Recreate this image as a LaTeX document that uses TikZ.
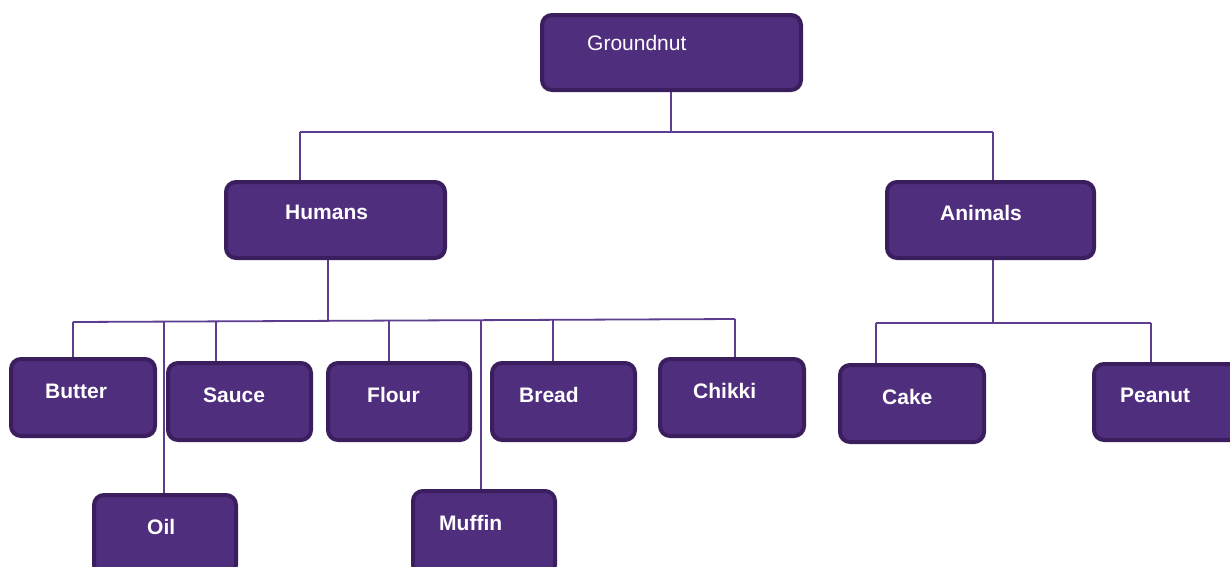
\documentclass[tikz,border=0pt]{standalone}
\usepackage{fontspec}
\setmainfont{Liberation Sans}
\begin{document}
\definecolor{boxfill}{HTML}{502E7E}
\definecolor{boxrim}{HTML}{3A1E5D}
\definecolor{wire}{HTML}{5C3D90}
\begin{tikzpicture}[x=1pt,y=-1pt,
  pbox/.style={draw=boxrim,fill=boxfill,line width=4pt,rounded corners=10pt,inner sep=0pt},
  lbl/.style={text=white,font=\fontsize{21}{24}\selectfont\bfseries,anchor=base west,inner sep=0pt},
  conn/.style={draw=wire,line width=1.8pt}]
\useasboundingbox (0,0) rectangle (1230,566);
\clip (0,0) rectangle (1230,566);

% boxes: corners given as (left,top) rectangle (right,bottom)
\newcommand{\mkbox}[5]{%
  \node[pbox,minimum width=#4-#2,minimum height=#5-#3] (#1) at ({(#2+#4)/2},{(#3+#5)/2}) {};}
\mkbox{g}{542}{15}{801}{90}
\mkbox{hum}{226}{182}{445}{258}
\mkbox{ani}{887}{182}{1094}{258}
\mkbox{butter}{11}{359}{155}{436}
\mkbox{sauce}{168}{363}{311}{440}
\mkbox{flour}{328}{363}{470}{440}
\mkbox{bread}{492}{363}{635}{440}
\mkbox{chikki}{660}{359}{804}{436}
\mkbox{cake}{840}{365}{984}{442}
\mkbox{peanut}{1094}{364}{1242}{440}
\mkbox{oil}{94}{495}{236}{575}
\mkbox{muffin}{413}{491}{555}{575}

% labels
\node[lbl,font=\fontsize{21}{24}\selectfont] (tg) at (587,50) {Groundnut};
\node[lbl] (thum) at (285,219) {Humans};
\node[lbl] (tani) at (940,220) {Animals};
\node[lbl] (tbutter) at (45,398) {Butter};
\node[lbl] (tsauce) at (203,402) {Sauce};
\node[lbl] (tflour) at (367,402) {Flour};
\node[lbl] (tbread) at (519,402) {Bread};
\node[lbl] (tchikki) at (693,398) {Chikki};
\node[lbl] (tcake) at (882,404) {Cake};
\node[lbl] (tpeanut) at (1120,402) {Peanut};
\node[lbl] (toil) at (147,534) {Oil};
\node[lbl] (tmuffin) at (439,530) {Muffin};

% top level
\coordinate (gj) at (671,132);
\draw[conn] (g.south -| gj) -- (gj);
\draw[conn] (300,132) -- (993,132);
\draw[conn] (300,132) -- (300,132 |- hum.north);
\draw[conn] (993,132) -- (993,132 |- ani.north);

% humans branch
\coordinate (hj) at (328,321);
\draw[conn] (hum.south -| hj) -- (hj);
\draw[conn] (73,322) -- (735,319);
\draw[conn] (73,322) -- (73,322 |- butter.north);
\draw[conn] (164,322) -- (164,322 |- oil.north);
\draw[conn] (216,321) -- (216,321 |- sauce.north);
\draw[conn] (389,321) -- (389,321 |- flour.north);
\draw[conn] (481,320) -- (481,320 |- muffin.north);
\draw[conn] (553,320) -- (553,320 |- bread.north);
\draw[conn] (735,319) -- (735,319 |- chikki.north);

% animals branch
\coordinate (aj) at (993,323);
\draw[conn] (ani.south -| aj) -- (aj);
\draw[conn] (876,323) -- (1151,323);
\draw[conn] (876,323) -- (876,323 |- cake.north);
\draw[conn] (1151,323) -- (1151,323 |- peanut.north);
\end{tikzpicture}
\end{document}
